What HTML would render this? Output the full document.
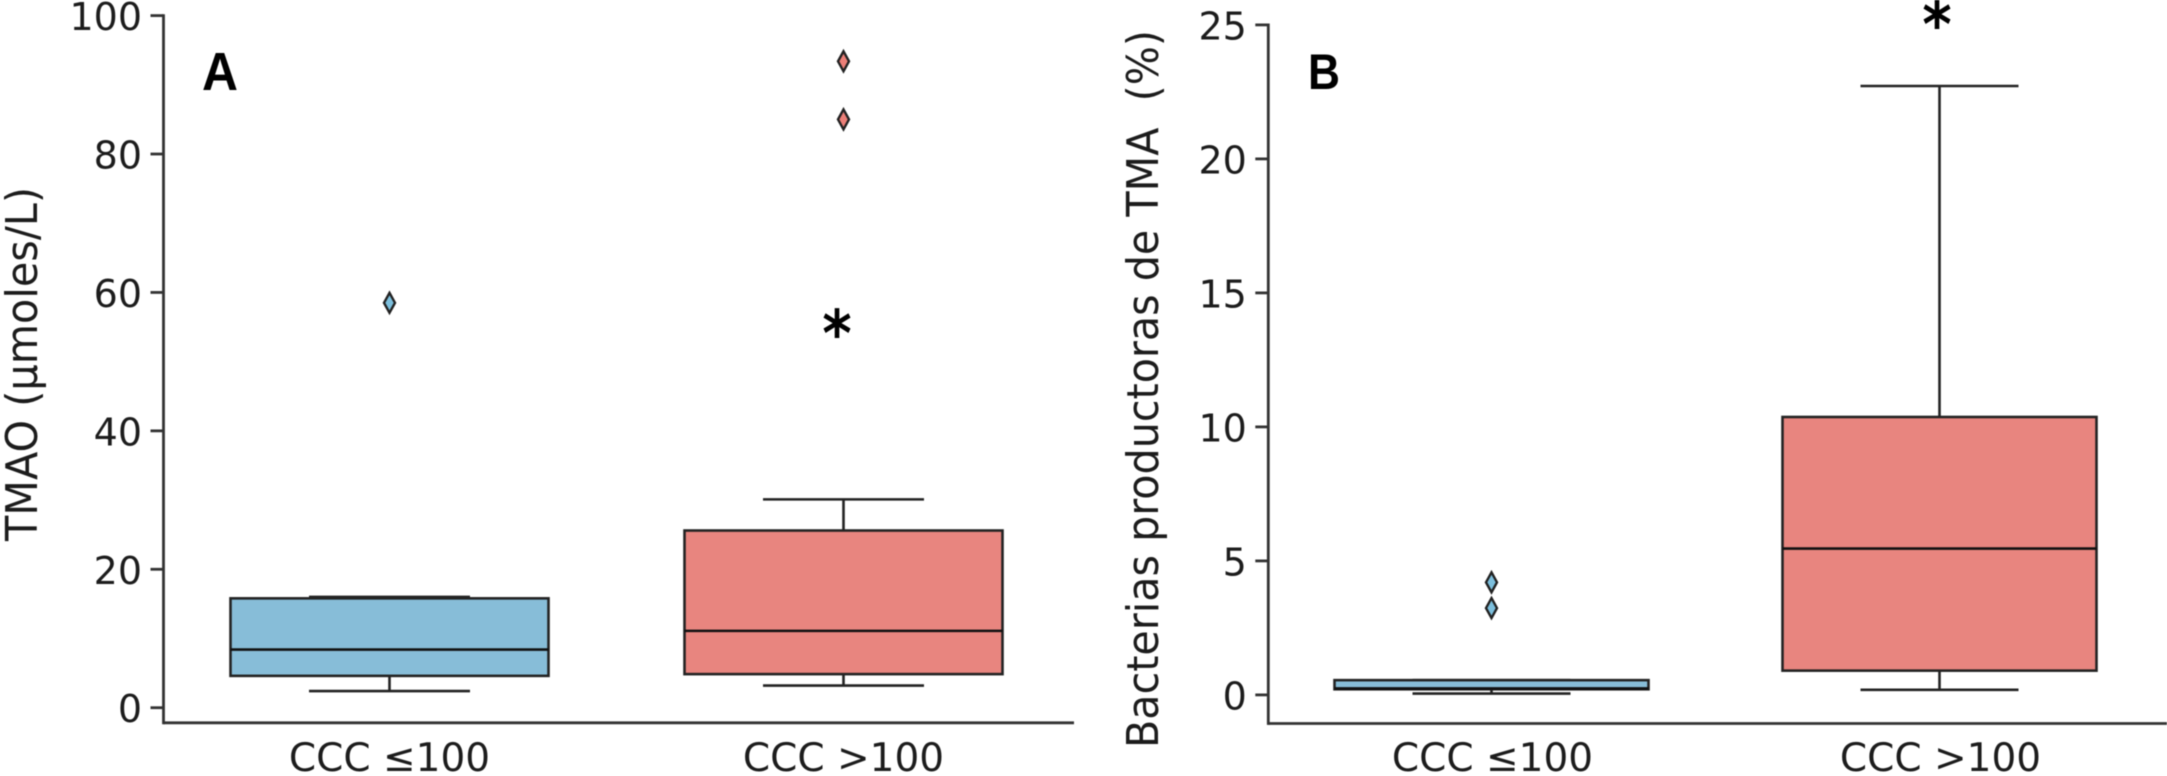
<!DOCTYPE html>
<html lang="es">
<head>
<meta charset="utf-8">
<title>TMAO y bacterias productoras de TMA</title>
<style>
  html, body { margin: 0; padding: 0; background: #fff; width: 2167px; height: 776px; overflow: hidden; }
  svg { display: block; filter: blur(0.5px); }
  text { font-family: "DejaVu Sans", "Liberation Sans", sans-serif; fill: #1c1c1c; }
</style>
</head>
<body>
<svg id="figure" xmlns="http://www.w3.org/2000/svg" width="2167" height="776" viewBox="0 0 2167 776"></svg>
<script>
// Shared
const categories = ["CCC \u2264100", "CCC >100"];

// Panel A data (TMAO)
const ticksA = [0, 20, 40, 60, 80, 100];
const q1A = [4.6, 4.85];
const medianA = [8.4, 11.1];
const q3A = [15.8, 25.6];
const whiskerLowA = [2.4, 3.2];
const whiskerHighA = [16.0, 30.1];
const outliersA = [[58.5], [93.4, 85.0]];

// Panel B data (Bacterias productoras de TMA)
const ticksB = [0, 5, 10, 15, 20, 25];
const q1B = [0.21, 0.905];
const medianB = [0.24, 5.46];
const q3B = [0.55, 10.37];
const whiskerLowB = [0.05, 0.19];
const whiskerHighB = [0.55, 22.72];
const outliersB = [[4.2, 3.24], []];

const NS = "http://www.w3.org/2000/svg";
const svg = document.getElementById("figure");
const boxFill = ["#87bdd8", "#e8857f"];
const flierFill = ["#7cbfdd", "#ec7f78"];
const lineColor = "#232323";

function make(tag, attrs, parent) {
  const node = document.createElementNS(NS, tag);
  for (const k in attrs) node.setAttribute(k, attrs[k]);
  parent.appendChild(node);
  return node;
}

function drawPanel(cfg) {
  const y = v => cfg.y0 + (cfg.yTop - cfg.y0) * (v - cfg.ticks[0]) / (cfg.ticks[cfg.ticks.length - 1] - cfg.ticks[0]);
  const x = i => cfg.xCenter0 + i * (cfg.xCenter1 - cfg.xCenter0);

  const panel = make("g", {}, svg);
  
  

  categories.forEach((cat, i) => {
    const cx = x(i);
    const group = make("g", {}, panel);
    
    

    const upper = make("line", { x1: cx, x2: cx, y1: y(cfg.q3[i]), y2: y(cfg.hi[i]), stroke: lineColor, "stroke-width": 2.6 }, group);
    
    

    const lower = make("line", { x1: cx, x2: cx, y1: y(cfg.q1[i]), y2: y(cfg.lo[i]), stroke: lineColor, "stroke-width": 2.6 }, group);
    
    

    const capHi = make("line", { x1: cx - cfg.capHalf, x2: cx + cfg.capHalf, y1: y(cfg.hi[i]), y2: y(cfg.hi[i]), stroke: lineColor, "stroke-width": 2.6 }, group);
    
    

    const capLo = make("line", { x1: cx - cfg.capHalf, x2: cx + cfg.capHalf, y1: y(cfg.lo[i]), y2: y(cfg.lo[i]), stroke: lineColor, "stroke-width": 2.6 }, group);
    
    

    const box = make("rect", {
      x: cx - cfg.boxHalf, width: 2 * cfg.boxHalf,
      y: y(cfg.q3[i]), height: y(cfg.q1[i]) - y(cfg.q3[i]),
      fill: boxFill[i], stroke: lineColor, "stroke-width": 2.6
    }, group);
    
    

    const med = make("line", { x1: cx - cfg.boxHalf, x2: cx + cfg.boxHalf, y1: y(cfg.med[i]), y2: y(cfg.med[i]), stroke: "#111", "stroke-width": 2.6 }, group);
    
    

    cfg.out[i].forEach(v => {
      const py = y(v);
      const flier = make("polygon", {
        points: [[cx, py - 10], [cx + 5.5, py], [cx, py + 10], [cx - 5.5, py]].map(p => p.join(",")).join(" "),
        fill: flierFill[i], stroke: "#222", "stroke-width": 2.4
      }, group);
      
      
    });

    const label = make("text", { x: cx + cfg.labelShift, y: cfg.xLabelY, "text-anchor": "middle", "font-size": 39 }, panel);
    
    
    label.textContent = cat;
  });

  cfg.ticks.forEach(t => {
    const tick = make("line", { x1: cfg.xAxis - 13, x2: cfg.xAxis, y1: y(t), y2: y(t), stroke: "#333", "stroke-width": 2.8 }, panel);
    
    

    const lab = make("text", { x: cfg.xAxis - 21.5, y: y(t) + 14.5, "text-anchor": "end", "font-size": 38 }, panel);
    
    
    lab.textContent = t;
  });

  const ySpine = make("line", { x1: cfg.xAxis, x2: cfg.xAxis, y1: cfg.yTop - 1.4, y2: cfg.axisY + 1.4, stroke: "#333", "stroke-width": 2.8 }, panel);
  
  

  const xSpine = make("line", { x1: cfg.xAxis, x2: cfg.xEnd, y1: cfg.axisY, y2: cfg.axisY, stroke: "#333", "stroke-width": 2.8 }, panel);
  
  

  const title = make("text", {
    transform: "translate(" + cfg.titleX + "," + cfg.titleY + ") rotate(-90)",
    "text-anchor": "middle", "font-size": 44,
    textLength: cfg.titleLen, lengthAdjust: "spacingAndGlyphs"
  }, panel);
  
  
  title.setAttribute("xml:space", "preserve");
  title.style.whiteSpace = "pre";
  title.textContent = cfg.title;

  const letter = make("text", {
    x: cfg.letterX, y: cfg.letterY, "font-size": cfg.letterSize, "font-weight": "bold",
    textLength: cfg.letterLen, lengthAdjust: "spacingAndGlyphs"
  }, panel);
  
  
  letter.style.fontFamily = '"Liberation Sans", sans-serif';
  letter.style.fill = "#000";
  letter.textContent = cfg.letter;

  const star = make("text", {
    transform: "translate(" + cfg.starX + "," + cfg.starY + ") scale(1,1.15)",
    "text-anchor": "middle", "font-size": 56, "font-weight": "bold"
  }, panel);
  
  
  star.style.fill = "#000";
  star.textContent = "*";
}

drawPanel({
  id: "tmao", ticks: ticksA, q1: q1A, med: medianA, q3: q3A, lo: whiskerLowA, hi: whiskerHighA, out: outliersA,
  y0: 707.7, yTop: 15.6, axisY: 722.8, xAxis: 163.5, xEnd: 1074,
  xCenter0: 389.5, xCenter1: 843.5, boxHalf: 159, capHalf: 80.5, xLabelY: 771, labelShift: 0,
  title: "TMAO (\u00b5moles/L)", titleX: 37, titleY: 364, titleLen: 354,
  letter: "A", letterX: 202, letterY: 90, letterLen: 36, letterSize: 54,
  starX: 837, starY: 356
});

drawPanel({
  id: "bacterias", ticks: ticksB, q1: q1B, med: medianB, q3: q3B, lo: whiskerLowB, hi: whiskerHighB, out: outliersB,
  y0: 694.9, yTop: 24.9, axisY: 723.5, xAxis: 1268.3, xEnd: 2167,
  xCenter0: 1491.5, xCenter1: 1939.5, boxHalf: 157, capHalf: 79, xLabelY: 771, labelShift: 1,
  title: "Bacterias productoras de TMA  (%)", titleX: 1158, titleY: 389, titleLen: 718,
  letter: "B", letterX: 1308, letterY: 89, letterLen: 32, letterSize: 50,
  starX: 1937, starY: 47
});
</script>
</body>
</html>
